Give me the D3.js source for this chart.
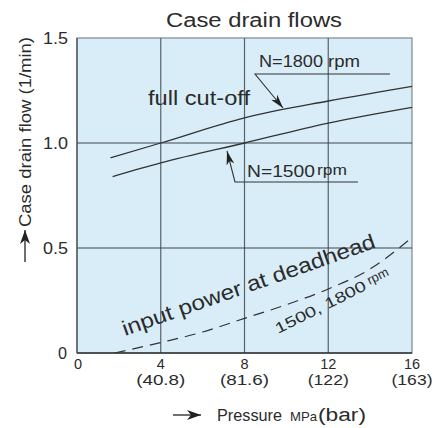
<!DOCTYPE html>
<html lang="en">
<head>
<meta charset="UTF-8">
<title>Case drain flows</title>
<script src="https://d3js.org/d3.v7.min.js"></script>
<style>
    body { margin: 0; background: #fff; }
    text { font-family: 'Liberation Sans', Arial, sans-serif; fill: #2b2b2b; }
</style>
</head>
<body>
<div id="chart"></div>
<script>
    // values
    const xTicks = [0, 4, 8, 12, 16];
    const xTickBar = ["", "(40.8)", "(81.6)", "(122)", "(163)"];
    const yTicks = [0, 0.5, 1.0, 1.5];
    const yTickLabels = ["0", "0.5", "1.0", "1.5"];

    const pressure1800 = [1.6, 4, 8, 12, 16];
    const flow1800 = [0.93, 1.0, 1.12, 1.2, 1.27];
    const pressure1500 = [1.7, 4, 8, 12, 16];
    const flow1500 = [0.84, 0.905, 1.0, 1.095, 1.17];
    const deadheadPressure = [1.8, 4, 6, 8, 10, 12, 14, 16];
    const deadheadFlow = [0, 0.05, 0.1, 0.165, 0.23, 0.305, 0.4, 0.55];

    const width = 443, height = 428;
    const x = d3.scaleLinear().domain([0, 16]).range([77, 412]);
    const y = d3.scaleLinear().domain([0, 1.5]).range([353, 38]);

    const svg = d3.select("#chart").append("svg")
        .attr("width", width).attr("height", height);

    const defs = svg.append("defs");
    defs.append("marker").attr("id", "lead")
        .attr("markerUnits", "userSpaceOnUse")
        .attr("viewBox", "0 0 14 8").attr("refX", 14).attr("refY", 4)
        .attr("markerWidth", 14).attr("markerHeight", 8).attr("orient", "auto")
        .append("path").attr("d", "M0,0 L14,4 L0,8 L4,4 Z").attr("fill", "#222");
    defs.append("marker").attr("id", "axisArrow")
        .attr("markerUnits", "userSpaceOnUse")
        .attr("viewBox", "0 0 14 10").attr("refX", 14).attr("refY", 5)
        .attr("markerWidth", 14).attr("markerHeight", 10).attr("orient", "auto")
        .append("path").attr("d", "M0,0 L14,5 L0,10 L4,5 Z").attr("fill", "#222");

    // plot background
    svg.append("rect")
        .attr("x", x(0)).attr("y", y(1.5))
        .attr("width", x(16) - x(0)).attr("height", y(0) - y(1.5))
        .attr("fill", "#d9edf8").attr("stroke", "#7d878c").attr("stroke-width", 1.2);

    // grid
    svg.append("g").selectAll("line").data(xTicks.slice(1, -1)).join("line")
        .attr("x1", d => x(d)).attr("x2", d => x(d))
        .attr("y1", y(0)).attr("y2", y(1.5))
        .attr("stroke", "#56626a").attr("stroke-width", 1.2);
    svg.append("g").selectAll("line").data(yTicks.slice(1, -1)).join("line")
        .attr("x1", x(0)).attr("x2", x(16))
        .attr("y1", d => y(d)).attr("y2", d => y(d))
        .attr("stroke", "#3d474d").attr("stroke-width", 1.2);
    // axes frame lines
    svg.append("line").attr("x1", x(0)).attr("x2", x(16)).attr("y1", y(0)).attr("y2", y(0))
        .attr("stroke", "#2e3336").attr("stroke-width", 1.4);
    svg.append("line").attr("x1", x(0)).attr("x2", x(0)).attr("y1", y(0)).attr("y2", y(1.5))
        .attr("stroke", "#4a5358").attr("stroke-width", 1.3);

    // tick labels
    svg.append("g").selectAll("text").data(yTicks).join("text")
        .attr("x", (d, i) => i === 0 ? 67 : 68)
        .attr("y", d => y(d) + 6)
        .attr("text-anchor", "end")
        .attr("font-size", 17)
        .attr("textLength", (d, i) => i === 0 ? 9 : 25)
        .attr("lengthAdjust", "spacingAndGlyphs")
        .text((d, i) => yTickLabels[i]);

    const xt = svg.append("g").selectAll("g").data(xTicks).join("g");
    xt.append("text")
        .attr("x", d => x(d) + (d === 0 ? 1 : 0)).attr("y", 369)
        .attr("text-anchor", "middle").attr("font-size", 14.5)
        .text(d => d);
    xt.append("text")
        .attr("x", d => x(d)).attr("y", 385)
        .attr("text-anchor", "middle").attr("font-size", 14.5)
        .attr("textLength", (d, i) => xTickBar[i].length * 8.2)
        .attr("lengthAdjust", "spacingAndGlyphs")
        .text((d, i) => xTickBar[i]);

    // curves
    const line = d3.line().x(d => x(d[0])).y(d => y(d[1])).curve(d3.curveMonotoneX);
    const zip = (a, b) => a.map((v, i) => [v, b[i]]);

    svg.append("path").datum(zip(pressure1800, flow1800))
        .attr("d", line).attr("fill", "none").attr("stroke", "#333").attr("stroke-width", 1.3);
    svg.append("path").datum(zip(pressure1500, flow1500))
        .attr("d", line).attr("fill", "none").attr("stroke", "#333").attr("stroke-width", 1.3);
    svg.append("path").datum(zip(deadheadPressure, deadheadFlow))
        .attr("d", line).attr("fill", "none")
        .attr("stroke", "#333").attr("stroke-width", 1.2)
        .attr("stroke-dasharray", "11,7");

    // title
    svg.append("text").attr("x", 254).attr("y", 27)
        .attr("text-anchor", "middle").attr("font-size", 20)
        .attr("textLength", 176).attr("lengthAdjust", "spacingAndGlyphs")
        .text("Case drain flows");

    // y axis label with arrow
    svg.append("text")
        .attr("transform", "translate(31,132) rotate(-90)")
        .attr("text-anchor", "middle").attr("font-size", 17)
        .attr("textLength", 190).attr("lengthAdjust", "spacingAndGlyphs")
        .text("Case drain flow (1/min)");
    svg.append("line").attr("x1", 25).attr("x2", 25).attr("y1", 262).attr("y2", 230)
        .attr("stroke", "#222").attr("stroke-width", 1.3).attr("marker-end", "url(#axisArrow)");

    // x axis label with arrow
    svg.append("line").attr("x1", 173).attr("x2", 201).attr("y1", 415).attr("y2", 415)
        .attr("stroke", "#222").attr("stroke-width", 1.3).attr("marker-end", "url(#axisArrow)");
    svg.append("text").attr("x", 217).attr("y", 421).attr("font-size", 17)
        .attr("textLength", 65).attr("lengthAdjust", "spacingAndGlyphs").text("Pressure");
    svg.append("text").attr("x", 290).attr("y", 421).attr("font-size", 13.5)
        .attr("textLength", 27).attr("lengthAdjust", "spacingAndGlyphs").text("MPa");
    svg.append("text").attr("x", 318).attr("y", 421).attr("font-size", 18)
        .attr("textLength", 48).attr("lengthAdjust", "spacingAndGlyphs").text("(bar)");

    // annotations
    svg.append("text").attr("x", 148).attr("y", 105).attr("font-size", 20)
        .attr("textLength", 102).attr("lengthAdjust", "spacingAndGlyphs").text("full cut-off");

    svg.append("text").attr("x", 259).attr("y", 67).attr("font-size", 17)
        .attr("textLength", 64).attr("lengthAdjust", "spacingAndGlyphs").text("N=1800");
    svg.append("text").attr("x", 328).attr("y", 67).attr("font-size", 16)
        .attr("textLength", 32).attr("lengthAdjust", "spacingAndGlyphs").text("rpm");
    svg.append("polyline").attr("points", "390,74 255,74 283,108")
        .attr("fill", "none").attr("stroke", "#333").attr("stroke-width", 1.1)
        .attr("marker-end", "url(#lead)");

    svg.append("text").attr("x", 247).attr("y", 177).attr("font-size", 17)
        .attr("textLength", 68).attr("lengthAdjust", "spacingAndGlyphs").text("N=1500");
    svg.append("text").attr("x", 317).attr("y", 175).attr("font-size", 14)
        .attr("textLength", 30).attr("lengthAdjust", "spacingAndGlyphs").text("rpm");
    svg.append("polyline").attr("points", "358,182 235,182 227,151")
        .attr("fill", "none").attr("stroke", "#333").attr("stroke-width", 1.1)
        .attr("marker-end", "url(#lead)");

    svg.append("text")
        .attr("transform", "translate(125,336) rotate(-19.4)")
        .attr("font-size", 21)
        .attr("textLength", 267).attr("lengthAdjust", "spacingAndGlyphs")
        .text("input power at deadhead");

    const rpmNote = svg.append("text")
        .attr("transform", "translate(278,334) rotate(-26.5)")
        .attr("font-size", 15);
    rpmNote.append("tspan").attr("textLength", 100).attr("lengthAdjust", "spacingAndGlyphs")
        .text("1500, 1800");
    rpmNote.append("tspan").attr("dx", 4).attr("dy", -3).attr("font-size", 13)
        .text("rpm");
</script>
</body>
</html>
